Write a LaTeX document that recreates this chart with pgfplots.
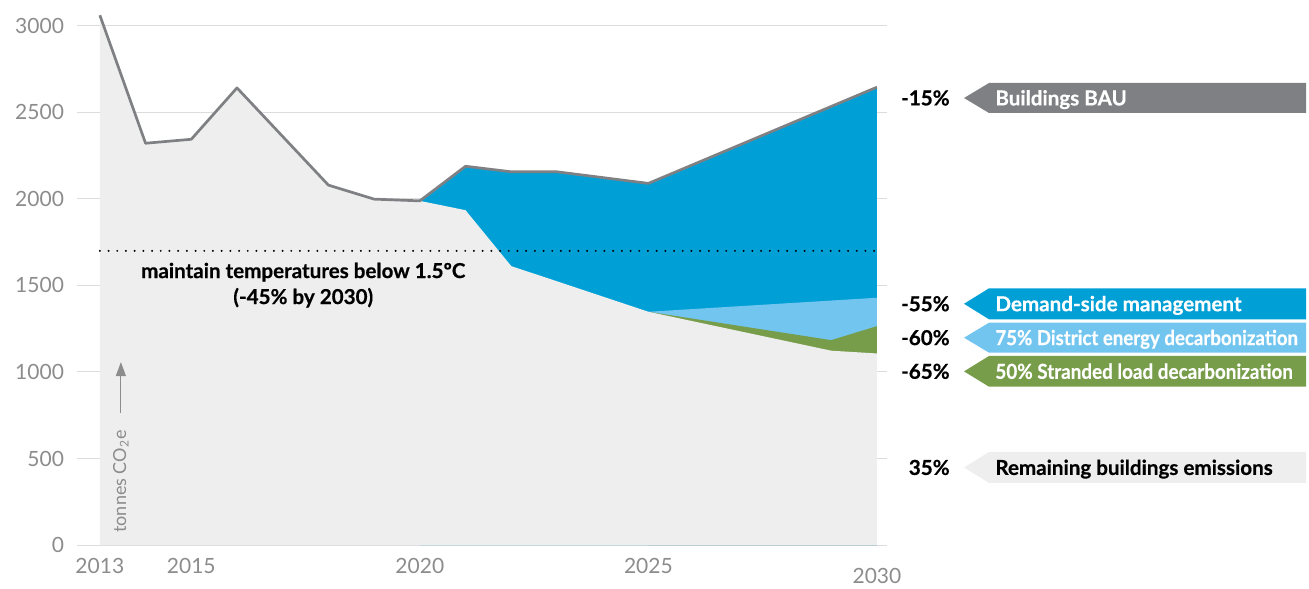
\documentclass[border=0pt]{standalone}
\usepackage{pgfplots}
\usepackage{pgfplotstable}
\usepackage{graphicx}
\pgfplotsset{compat=1.18}
\usepackage{fontspec}
\setmainfont{Lato}
\newfontfamily\lblfont{Lato}[BoldFeatures={FakeBold=0.5}]
\usetikzlibrary{arrows.meta}

\definecolor{dsm}{HTML}{00A0D6}
\definecolor{district}{HTML}{72C5EF}
\definecolor{stranded}{HTML}{789D4A}
\definecolor{remain}{HTML}{EEEEEE}
\definecolor{bau}{HTML}{7F8083}
\definecolor{tickc}{HTML}{8C8C8C}
\definecolor{gridc}{HTML}{DCDCDC}

% Buildings emissions, tonnes CO2e
\pgfplotstableread{
year bau
2013 3062
2014 2322
2015 2345
2016 2642
2018 2080
2019 1999
2020 1989
2021 2189
2022 2157
2023 2157
2025 2090
2030 2646
}\baudata

\pgfplotstableread{
year bau
2020 1989
2021 2189
2022 2157
2023 2157
2025 2090
2030 2646
}\baufuture

\pgfplotstableread{
year rem
2013 3062
2014 2322
2015 2345
2016 2642
2018 2080
2019 1999
2020 1989
2021 1935
2022 1612
2025 1348
2029 1123
2030 1107
}\remaining

\pgfplotstableread{
year top
2025 1348
2030 1429
}\districttop

\pgfplotstableread{
year top
2025 1348
2029 1184
2030 1265
}\strandedtop

\newcommand\lblstyle{\lblfont\bfseries\fontsize{10.3}{13}\selectfont}

% arrow-shaped legend tag: fill, top, bottom, centre, text colour, text, percentage
\newcommand\tagbox[7]{%
  \fill[#1] (443.5pt,#4pt) -- (456pt,#2pt) -- (614.5pt,#2pt) -- (614.5pt,#3pt) -- (456pt,#3pt) -- cycle;
  \node[anchor=base west, inner sep=0pt, text=#5, font=\lblstyle]
    at (459pt,{(#4-3.7)*1pt}) {#6};
  \node[anchor=base east, inner sep=0pt, font=\lblstyle]
    at (436.5pt,{(#4-3.7)*1pt}) {#7};
}

\begin{document}
\begin{tikzpicture}
\begin{axis}[
  at={(0pt,0pt)}, anchor=south west,
  scale only axis, width=405pt, height=272.5pt,
  xmin=2012.5, xmax=2030.22, ymin=0, ymax=3150,
  axis line style={draw=none},
  major tick length=0pt,
  ytick={0,500,...,3000},
  xtick={2013,2015,2020,2025},
  extra x ticks={2030},
  extra x tick style={xticklabel style={yshift=-5pt}},
  ymajorgrids, grid style={gridc, line width=0.5pt},
  tick label style={text=tickc, font=\fontsize{10.5}{12}\selectfont},
  xticklabel style={yshift=-3pt},
  yticklabel style={xshift=-3pt},
  /pgf/number format/assume math mode=true,
  /pgf/number format/1000 sep={},
  clip=false,
]
\addplot[fill=dsm, draw=none] table[x=year, y=bau] {\baufuture} \closedcycle;
\addplot[fill=district, draw=none] table[x=year, y=top] {\districttop} \closedcycle;
\addplot[fill=stranded, draw=none] table[x=year, y=top] {\strandedtop} \closedcycle;
\addplot[fill=remain, draw=none] table[x=year, y=rem] {\remaining} \closedcycle;

\draw[black, line width=1.1pt, line cap=round, dash pattern=on 0pt off 4.35pt]
  (axis cs:2013,1700) -- (axis cs:2030,1700);

\addplot[bau, line width=1.35pt, line join=round] table[x=year, y=bau] {\baudata};

\node[align=center, font=\lblstyle]
  at (axis cs:2017.45,1502) {maintain temperatures below 1.5ºC\\(-45\% by 2030)};

\node[rotate=90, anchor=west, inner sep=0pt, text=tickc, font=\fontsize{9}{10}\selectfont]
  at (axis cs:2013.46,69) {tonnes CO\textsubscript{2}e};
\draw[tickc, line width=0.6pt, -{Triangle[length=7pt,width=5pt]}]
  (axis cs:2013.46,763) -- (axis cs:2013.46,1057);
\end{axis}

\tagbox{bau}{231}{216}{223.5}{white}{Buildings BAU}{-15\%}
\tagbox{dsm}{128.35}{112.85}{120.6}{white}{Demand-side management}{-55\%}
\tagbox{district}{111.15}{96.15}{103.65}{white}{\scalebox{0.905}[1]{75\% District energy decarbonization}}{-60\%}
\tagbox{stranded}{94.5}{79.15}{86.8}{white}{\scalebox{0.915}[1]{50\% Stranded load decarbonization}}{-65\%}
\tagbox{remain}{46.5}{31}{38.75}{black}{Remaining buildings emissions}{35\%}

\pgfresetboundingbox
\useasboundingbox (-38.5pt,-21.5pt) rectangle (616pt,272.5pt);
\end{tikzpicture}
\end{document}
